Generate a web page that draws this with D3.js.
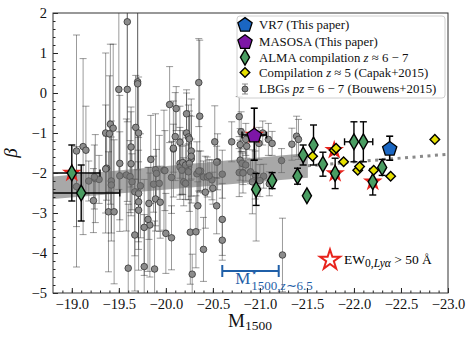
<!DOCTYPE html>
<html>
<head>
<meta charset="utf-8">
<script src="https://cdn.jsdelivr.net/npm/d3@7"></script>
<style>
  body { margin: 0; background: #fff; }
  text { font-family: "Liberation Serif", serif; }
</style>
</head>
<body>
<div id="chart"></div>
<script>
// LBGs pz = 6-7 (Bouwens+2015)
const lbgM = [-19.59, -19.50, -19.59, -19.70, -19.70, -20.35, -20.36, -20.04, -20.11, -20.22,
  -19.05, -19.12, -19.15, -19.41, -19.44, -19.36, -19.40, -19.68, -19.71, -19.63,
  -19.51, -19.63, -19.84, -19.89, -19.98, -20.08, -20.10, -20.15, -20.22, -20.24,
  -20.25, -20.27, -20.27, -20.15, -20.15, -20.52, -20.55, -20.70, -20.78, -20.37,
  -20.40, -20.44, -19.37, -19.05, -19.18, -19.23, -19.25, -19.29, -19.39, -19.45,
  -19.42, -19.42, -19.51, -19.58, -19.62, -19.64, -19.73, -19.67, -19.71, -19.71,
  -19.67, -19.82, -19.83, -19.77, -19.60, -19.77, -19.88, -19.81, -20.00, -20.06,
  -20.26, -20.32, -20.40, -20.28, -19.71, -19.89, -19.94, -20.34, -20.42, -20.54,
  -20.60, -20.60, -20.50, -20.49, -20.60, -20.54, -20.79, -20.81, -20.78, -20.82,
  -20.27, -20.18, -20.21, -20.25, -20.17, -20.24, -20.19, -20.21, -20.33, -20.35,
  -20.46, -19.87, -19.93, -19.90, -19.99, -20.06, -19.36, -19.24, -20.79, -20.08,
  -20.80, -20.85, -20.86, -21.03, -20.99, -21.09, -21.13, -21.23, -21.34, -21.39,
  -21.41, -21.04, -21.00, -21.10, -20.85, -20.90, -20.95, -20.82, -21.24, -20.96, -20.92]
const lbgBeta = [1.78, 0.09, 0.09, 0.28, 0.23, 0.26, -0.58, -0.29, -0.39, -0.52,
  -1.45, -1.34, -1.43, -0.78, -0.88, -1.00, -1.02, -0.86, -1.00, -1.35,
  -1.76, -1.77, -1.66, -1.92, -1.93, -1.40, -1.09, -1.23, -1.00, -1.10,
  -1.15, -1.45, -1.65, -1.76, -1.85, -1.22, -1.72, -1.22, -0.59, -1.95,
  -2.10, -2.10, -1.88, -2.34, -2.20, -2.69, -2.14, -2.16, -2.97, -2.97,
  -2.20, -2.30, -2.07, -2.05, -2.09, -2.22, -2.32, -2.47, -2.51, -2.72,
  -3.55, -2.76, -3.30, -3.36, -4.38, -4.34, -4.40, -3.16, -3.51, -3.62,
  -3.48, -3.47, -3.91, -4.53, -2.93, -2.65, -2.73, -2.82, -2.48, -2.82,
  -3.16, -3.68, -2.38, -2.17, -2.03, -1.73, -1.68, -1.76, -1.99, -1.99,
  -1.58, -1.74, -1.80, -1.76, -1.93, -1.97, -2.22, -2.26, -2.02, -1.95,
  -2.07, -2.28, -2.26, -2.01, -1.94, -2.11, -1.90, -2.10, -1.29, -1.38,
  -0.97, -1.16, -1.33, -1.00, -1.26, -1.16, -1.26, -1.69, -1.28, -1.08,
  -1.16, -2.08, -2.19, -2.27, -1.80, -1.97, -2.05, -2.00, -4.05, -2.40, -2.22]
const lbgErr = [2.5, 2.5, 2.8, 2.2, 3.0, 1.1, 1.9, 0.95, 0.55, 0.6,
  2.9, 2.2, 1.1, 2.0, 2.1, 2.0, 1.45, 1.3, 1.4, 1.0,
  1.7, 1.3, 1.1, 1.4, 1.5, 1.2, 1.1, 0.9, 1.0, 0.8,
  0.7, 1.3, 0.5, 0.9, 0.7, 0.9, 0.7, 0.5, 0.5, 0.5,
  0.4, 0.5, 0.8, 1.0, 0.5, 0.8, 1.1, 0.6, 1.5, 1.8,
  1.5, 1.2, 1.1, 1.4, 0.9, 0.7, 1.3, 1.6, 1.4, 1.0,
  1.4, 0.9, 1.3, 1.2, 1.6, 1.3, 1.2, 1.3, 1.0, 0.8,
  1.3, 0.9, 0.8, 0.5, 1.5, 0.8, 0.9, 0.6, 0.9, 0.7,
  0.9, 0.5, 0.4, 0.5, 0.6, 0.4, 0.5, 0.3, 0.6, 0.3,
  1.0, 0.8, 0.5, 1.2, 0.6, 0.7, 0.6, 0.4, 0.8, 0.5,
  0.4, 0.7, 1.2, 0.6, 1.0, 0.9, 1.6, 0.8, 0.4, 0.6,
  0.5, 0.4, 0.3, 0.3, 0.4, 0.4, 0.3, 0.3, 0.4, 0.5,
  0.5, 0.3, 0.4, 0.3, 0.4, 0.3, 0.6, 0.5, 0.92, 1.3, 0.8]

// ALMA compilation z ~ 6-7
const almaM = [-19.00, -19.10, -21.46, -21.57, -21.40, -21.13, -20.96, -21.50, -21.67, -21.80, -22.00, -22.10, -22.30, -22.20]
const almaBeta = [-2.00, -2.50, -1.55, -1.30, -2.08, -2.19, -2.41, -2.57, -1.78, -2.01, -1.22, -1.22, -1.86, -2.22]
const almaErr = [0.70, 0.70, 0.25, 0.50, 0.20, 0.20, 0.40, 0, 0.30, 0.38, 0.50, 0.50, 0.20, 0.33]
const almaXErr = [0.30, 0.41, 0, 0, 0, 0, 0, 0, 0, 0, 0.10, 0.10, 0, 0]

// Capak+2015 z ~ 5
const capakM = [-21.56, -21.79, -21.81, -21.89, -22.04, -22.06, -22.21, -22.39, -22.86]
const capakBeta = [-1.58, -1.43, -1.38, -1.72, -1.93, -1.84, -1.93, -2.08, -1.16]

// this paper
const vr7M = [-22.38], vr7Beta = [-1.38], vr7Err = [0.30]
const masosaM = [-20.94], masosaBeta = [-1.05], masosaErrUp = [0.67], masosaErrLo = [0.63], masosaXErr = [0.13]

// EW0,Lya > 50 A
const lyaM = [-19.00, -20.94, -21.79, -21.80, -22.20]
const lyaBeta = [-2.00, -1.05, -1.43, -2.01, -2.22]

// beta - M1500 relation
const bandM = [-18.8, -21.51]
const bandLo = [-2.65, -2.12]
const bandHi = [-2.09, -1.50]
const extM = [-21.51, -23.0]
const extBeta = [-1.82, -1.53]

// M* at z~6.5
const mStar = -20.9, mStarErr = 0.3, mStarBeta = -4.45

const xTicks = [-19.0, -19.5, -20.0, -20.5, -21.0, -21.5, -22.0, -22.5, -23.0]
const yTicks = [-5, -4, -3, -2, -1, 0, 1, 2]

const W = 469, H = 342
const plot = { left: 53, right: 448, top: 13, bottom: 293 }

const x = d3.scaleLinear().domain([-18.8, -23.0]).range([plot.left, plot.right])
const y = d3.scaleLinear().domain([-5, 2]).range([plot.bottom, plot.top])

const svg = d3.select('#chart').append('svg')
  .attr('width', W).attr('height', H)

svg.append('clipPath').attr('id', 'clip')
  .append('rect')
  .attr('x', plot.left).attr('y', plot.top)
  .attr('width', plot.right - plot.left).attr('height', plot.bottom - plot.top)

const g = svg.append('g').attr('clip-path', 'url(#clip)')

function errBars(sel, data, color, opacity, cap, width) {
  const eg = sel.append('g').attr('stroke', color).attr('stroke-opacity', opacity).attr('stroke-width', width)
  data.forEach(d => {
    if (d.eu > 0 || d.el > 0) {
      eg.append('line').attr('x1', x(d.m)).attr('x2', x(d.m)).attr('y1', y(d.b + d.eu)).attr('y2', y(d.b - d.el))
      eg.append('line').attr('x1', x(d.m) - cap).attr('x2', x(d.m) + cap).attr('y1', y(d.b + d.eu)).attr('y2', y(d.b + d.eu))
      eg.append('line').attr('x1', x(d.m) - cap).attr('x2', x(d.m) + cap).attr('y1', y(d.b - d.el)).attr('y2', y(d.b - d.el))
    }
    if (d.ex > 0) {
      eg.append('line').attr('x1', x(d.m - d.ex)).attr('x2', x(d.m + d.ex)).attr('y1', y(d.b)).attr('y2', y(d.b))
      eg.append('line').attr('x1', x(d.m - d.ex)).attr('x2', x(d.m - d.ex)).attr('y1', y(d.b) - cap).attr('y2', y(d.b) + cap)
      eg.append('line').attr('x1', x(d.m + d.ex)).attr('x2', x(d.m + d.ex)).attr('y1', y(d.b) - cap).attr('y2', y(d.b) + cap)
    }
  })
}

// grey LBGs
const lbg = lbgM.map((m, i) => ({ m: m, b: lbgBeta[i], eu: lbgErr[i], el: lbgErr[i], ex: 0 }))
errBars(g, lbg, '#222', 0.45, 3.5, 1)
g.append('g').selectAll('circle').data(lbg).join('circle')
  .attr('cx', d => x(d.m)).attr('cy', d => y(d.b)).attr('r', 3.3)
  .attr('fill', '#8c8c8c').attr('stroke', '#333').attr('stroke-width', 0.8)

// fit band + extension
const area = d3.area().x((d, i) => x(bandM[i])).y0((d, i) => y(bandLo[i])).y1((d, i) => y(bandHi[i]))
g.append('path').datum(bandM).attr('d', area).attr('fill', '#6e6e6e').attr('fill-opacity', 0.6)
const line = d3.line().x((d, i) => x(extM[i])).y((d, i) => y(extBeta[i]))
g.append('path').datum(extM).attr('d', line)
  .attr('fill', 'none').attr('stroke', '#8a8a8a').attr('stroke-width', 3).attr('stroke-dasharray', '3,4.5')

// red stars behind the Lya emitters
const star = d3.symbol().type(d3.symbolStar).size(120)
g.append('g').selectAll('path').data(lyaM).join('path')
  .attr('d', star).attr('transform', (d, i) => `translate(${x(d)},${y(lyaBeta[i])})`)
  .attr('fill', '#e8231c')

// ALMA
const alma = almaM.map((m, i) => ({ m: m, b: almaBeta[i], eu: almaErr[i], el: almaErr[i], ex: almaXErr[i] }))
errBars(g, alma, '#000', 1, 3.5, 1.4)
const thinDiamond = d3.symbol().type(d3.symbolDiamond).size(72)
g.append('g').selectAll('path').data(alma).join('path')
  .attr('d', thinDiamond).attr('transform', d => `translate(${x(d.m)},${y(d.b)})`)
  .attr('fill', '#4a9d62').attr('stroke', '#000').attr('stroke-width', 1.4)

// Capak
const square = d3.symbol().type(d3.symbolSquare).size(46)
g.append('g').selectAll('path').data(capakM).join('path')
  .attr('d', square).attr('transform', (d, i) => `translate(${x(d)},${y(capakBeta[i])}) rotate(45)`)
  .attr('fill', '#e6e000').attr('stroke', '#000').attr('stroke-width', 1.4)

function pentagon(r) {
  const pts = d3.range(5).map(k => {
    const a = -Math.PI / 2 + k * 2 * Math.PI / 5
    return [r * Math.cos(a), r * Math.sin(a)]
  })
  return 'M' + pts.map(p => p.join(',')).join('L') + 'Z'
}

// MASOSA
errBars(g, [{ m: masosaM[0], b: masosaBeta[0], eu: masosaErrUp[0], el: masosaErrLo[0], ex: masosaXErr[0] }], '#000', 1, 3.5, 1.6)
g.append('path').attr('d', pentagon(7.5))
  .attr('transform', `translate(${x(masosaM[0])},${y(masosaBeta[0]) + 0.8})`)
  .attr('fill', '#7d16a6').attr('stroke', '#000').attr('stroke-width', 1.3)

// VR7
errBars(g, [{ m: vr7M[0], b: vr7Beta[0], eu: vr7Err[0], el: vr7Err[0], ex: 0 }], '#000', 1, 3.5, 1.6)
g.append('path').attr('d', pentagon(7.5))
  .attr('transform', `translate(${x(vr7M[0])},${y(vr7Beta[0]) + 0.8})`)
  .attr('fill', '#1a66c2').attr('stroke', '#000').attr('stroke-width', 1.3)

// M* marker
const blue = '#1f5fa8'
const mLeft = x(mStar + mStarErr), mRight = x(mStar - mStarErr)
const mg = svg.append('g').attr('stroke', blue).attr('stroke-width', 2)
mg.append('line').attr('x1', mLeft).attr('x2', mRight).attr('y1', y(mStarBeta)).attr('y2', y(mStarBeta))
mg.append('line').attr('x1', mLeft).attr('x2', mLeft).attr('y1', y(mStarBeta) - 6).attr('y2', y(mStarBeta) + 6)
mg.append('line').attr('x1', mRight).attr('x2', mRight).attr('y1', y(mStarBeta) - 6).attr('y2', y(mStarBeta) + 6)
const mt = svg.append('text').attr('x', mLeft + 13).attr('y', 284).attr('fill', blue).attr('font-size', 17)
mt.append('tspan').text('M')
mt.append('tspan').attr('x', mLeft + 29).attr('font-size', 13).attr('dy', 6).text('1500,')
mt.append('tspan').attr('font-size', 13).attr('font-style', 'italic').text('z')
mt.append('tspan').attr('font-size', 13).text('∼6.5')
svg.append('text').attr('x', mLeft + 29).attr('y', 276).attr('fill', blue).attr('font-size', 10).text('⋆')

// EW legend
svg.append('path').attr('d', d3.symbol().type(d3.symbolStar).size(125))
  .attr('transform', 'translate(330,260)')
  .attr('fill', '#fff').attr('stroke', '#e8231c').attr('stroke-width', 2)
const ew = svg.append('text').attr('x', 344).attr('y', 264).attr('font-size', 13.5)
ew.append('tspan').text('EW')
ew.append('tspan').attr('font-size', 11.5).attr('dy', 3).text('0,')
ew.append('tspan').attr('font-size', 11.5).attr('font-style', 'italic').text('Lyα')
ew.append('tspan').attr('dy', -3).text(' > 50 Å')

// axes
const xAxis = d3.axisBottom(x).tickValues(xTicks).tickSize(-5).tickPadding(6).tickFormat(d3.format('.1f'))
const xMinor = d3.axisBottom(x).tickValues(d3.range(-18.9, -23.01, -0.1)).tickSize(-2.5).tickFormat('')
const yAxis = d3.axisLeft(y).tickValues(yTicks).tickSize(-5).tickPadding(6).tickFormat(d3.format('d'))
const yMinor = d3.axisLeft(y).tickValues(d3.range(-4.8, 2, 0.2)).tickSize(-2.5).tickFormat('')

function styleAxis(a) {
  a.select('.domain').remove()
  a.selectAll('line').attr('stroke', '#222')
  a.selectAll('text').attr('font-family', '"Liberation Serif", serif').attr('font-size', 14.5).attr('fill', '#111')
}
svg.append('g').attr('transform', `translate(0,${plot.bottom})`).call(xMinor).call(styleAxis)
svg.append('g').attr('transform', `translate(0,${plot.bottom})`).call(xAxis).call(styleAxis)
svg.append('g').attr('transform', `translate(${plot.left},0)`).call(yMinor).call(styleAxis)
svg.append('g').attr('transform', `translate(${plot.left},0)`).call(yAxis).call(styleAxis)

svg.append('rect').attr('x', plot.left).attr('y', plot.top)
  .attr('width', plot.right - plot.left).attr('height', plot.bottom - plot.top)
  .attr('fill', 'none').attr('stroke', '#333').attr('stroke-width', 1)

// axis labels
const xl = svg.append('text').attr('x', 228).attr('y', 327).attr('font-size', 19).attr('fill', '#111')
xl.append('tspan').text('M')
xl.append('tspan').attr('font-size', 13.5).attr('dy', 3).text('1500')
svg.append('text').attr('transform', 'translate(17,153) rotate(-90)')
  .attr('text-anchor', 'middle').attr('font-size', 19).attr('font-style', 'italic').attr('fill', '#111').text('β')

// legend
const leg = svg.append('g')
leg.append('rect').attr('x', 237).attr('y', 16).attr('width', 208).attr('height', 82).attr('rx', 3)
  .attr('fill', '#fff').attr('fill-opacity', 0.85).attr('stroke', '#d0d0d0')
const legLabels = [
  ['VR7 (This paper)'],
  ['MASOSA (This paper)'],
  ['ALMA compilation ', 'z', ' ≈ 6 − 7'],
  ['Compilation ', 'z', ' ≈ 5 (Capak+2015)'],
  ['LBGs ', 'pz', ' = 6 − 7 (Bouwens+2015)']
]
const legY = [24.3, 41.5, 57.3, 72.5, 89]
const lx = 245
leg.append('path').attr('d', pentagon(7.5)).attr('transform', `translate(${lx},${legY[0] + 0.8})`)
  .attr('fill', '#1a66c2').attr('stroke', '#000').attr('stroke-width', 1.3)
leg.append('path').attr('d', pentagon(7.5)).attr('transform', `translate(${lx},${legY[1] + 0.8})`)
  .attr('fill', '#7d16a6').attr('stroke', '#000').attr('stroke-width', 1.3)
leg.append('path').attr('d', thinDiamond).attr('transform', `translate(${lx},${legY[2]})`)
  .attr('fill', '#4a9d62').attr('stroke', '#000').attr('stroke-width', 1.4)
leg.append('path').attr('d', square).attr('transform', `translate(${lx},${legY[3]}) rotate(45)`)
  .attr('fill', '#e6e000').attr('stroke', '#000').attr('stroke-width', 1.4)
const lbgLeg = leg.append('g').attr('stroke', '#222').attr('stroke-opacity', 0.5)
lbgLeg.append('line').attr('x1', lx).attr('x2', lx).attr('y1', legY[4] - 5).attr('y2', legY[4] + 5)
lbgLeg.append('line').attr('x1', lx - 3).attr('x2', lx + 3).attr('y1', legY[4] - 5).attr('y2', legY[4] - 5)
lbgLeg.append('line').attr('x1', lx - 3).attr('x2', lx + 3).attr('y1', legY[4] + 5).attr('y2', legY[4] + 5)
leg.append('circle').attr('cx', lx).attr('cy', legY[4]).attr('r', 3)
  .attr('fill', '#8c8c8c').attr('stroke', '#333').attr('stroke-width', 0.8)

legLabels.forEach((parts, i) => {
  const t = leg.append('text').attr('x', 259).attr('y', legY[i] + 4.3).attr('font-size', 12.8).attr('fill', '#111')
  parts.forEach((p, j) => {
    const s = t.append('tspan').text(p)
    if (j === 1) s.attr('font-style', 'italic')
  })
})
</script>
</body>
</html>
